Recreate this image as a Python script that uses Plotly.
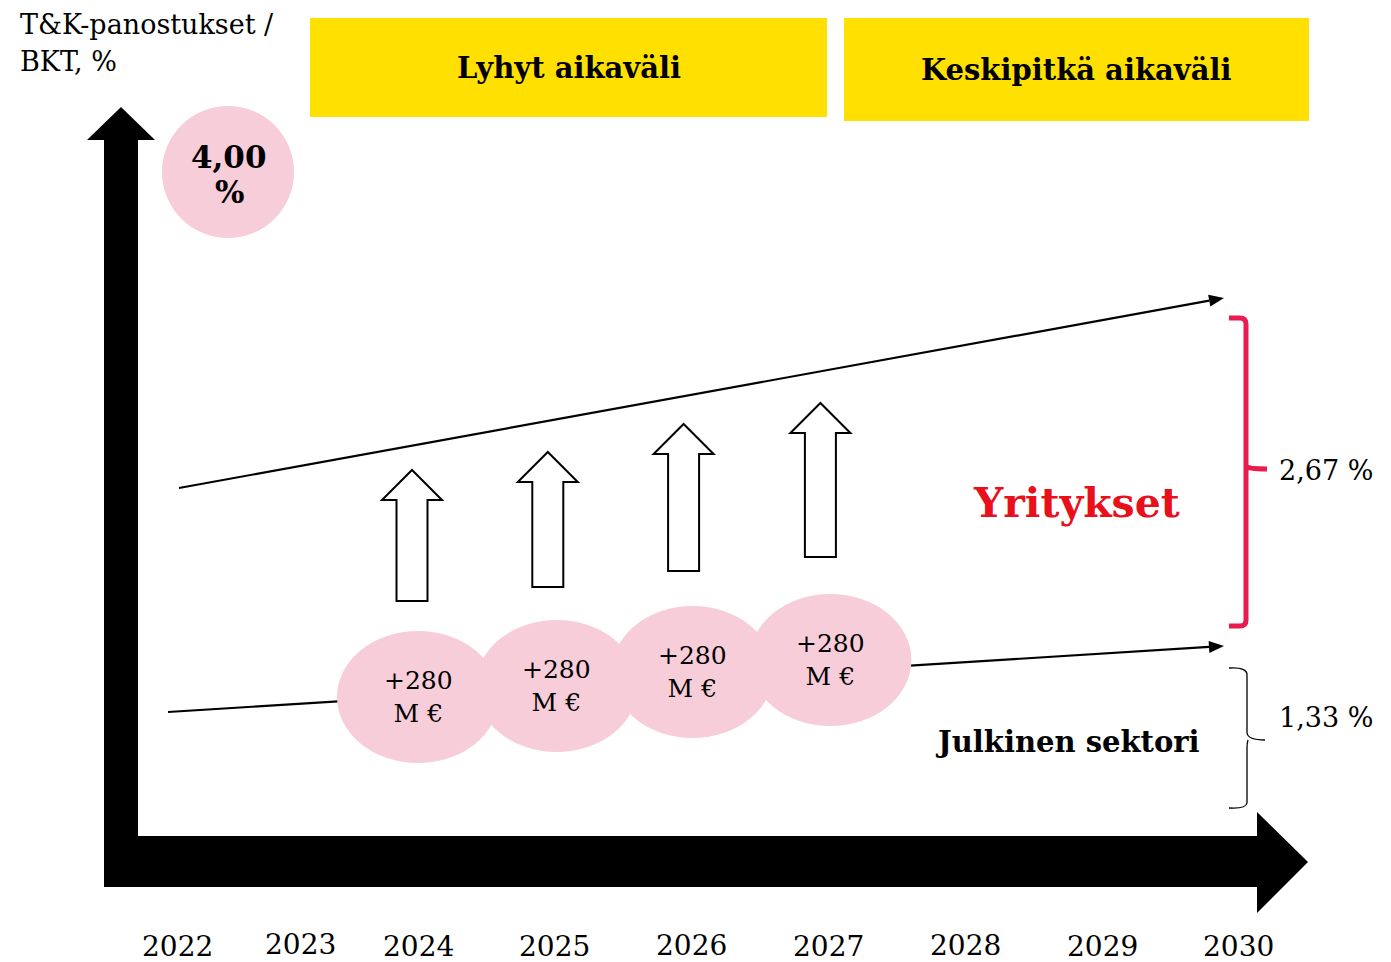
import plotly.graph_objects as go

# ---------------- data ----------------
years = [2022, 2023, 2024, 2025, 2026, 2027, 2028, 2029, 2030]
year_labels = [str(y) for y in years]
bubble_years = [2024, 2025, 2026, 2027]
bubble_amounts = [280, 280, 280, 280]          # M €
segments = ["Yritykset", "Julkinen sektori"]
segment_shares = [2.67, 1.33]                  # % of GDP
target_total = 4.00                            # % of GDP
periods = ["Lyhyt aikaväli", "Keskipitkä aikaväli"]
y_title = ["T&K-panostukset /", "BKT, %"]

# ---------------- layout / style ----------------
W, H = 1391, 962
PAGE_MARGIN = 8            # default body margin of the html page
PX_PER_YEAR = 136.8
X0_YEAR, X0_PX = 2024, 418
FONT = "DejaVu Serif"
PINK = "#F8CDDA"
YELLOW = "#FFE000"
RED_TXT = "#E8101A"
RED_BRACE = "#E81C4F"


def X(px):
    return X0_YEAR + (px - X0_PX) / PX_PER_YEAR


def Y(py):
    return (H - py) / 100.0


def fmt_pct(v):
    return f"{v:.2f}".replace(".", ",") + " %"


def poly(points):
    return "M " + " L ".join(f"{X(a):.5f},{Y(b):.5f}" for a, b in points) + " Z"


def pth(cmds):
    out = []
    for c in cmds:
        op, pts = c[0], c[1:]
        out.append(op + " " + " ".join(f"{X(a):.5f},{Y(b):.5f}" for a, b in pts))
    return " ".join(out)


shapes = []
annotations = []
traces = []

# yellow period boxes
period_boxes = [(310, 18, 827, 117), (844, 18, 1309, 121)]
for (x0, y0, x1, y1), label in zip(period_boxes, periods):
    shapes.append(dict(type="rect", xref="x", yref="y", x0=X(x0), x1=X(x1), y0=Y(y1), y1=Y(y0),
                       fillcolor=YELLOW, line=dict(width=0), layer="below"))
    annotations.append(dict(x=X((x0 + x1) / 2), y=Y((y0 + y1) / 2), xref="x", yref="y",
                            text=f"<b>{label}</b>", showarrow=False,
                            font=dict(family=FONT, size=29, color="black")))

# big black axes arrows
shapes.append(dict(type="path", xref="x", yref="y",
                   path=poly([(104, 887), (104, 140), (87, 140), (121, 107), (155, 140), (138, 140), (138, 887)]),
                   fillcolor="black", line=dict(width=0)))
shapes.append(dict(type="path", xref="x", yref="y",
                   path=poly([(104, 836), (1257, 836), (1257, 812), (1308, 862), (1257, 913), (1257, 887), (104, 887)]),
                   fillcolor="black", line=dict(width=0)))

# trend lines with arrowheads
trend_lines = [((179, 488), (1224, 298)), ((168, 712), (1224, 646))]
for (sx, sy), (ex, ey) in trend_lines:
    dx, dy = ex - sx, ey - sy
    L = (dx * dx + dy * dy) ** 0.5
    ux, uy = dx / L, dy / L
    nx, ny = -uy, ux
    bx, by = ex - 15 * ux, ey - 15 * uy
    traces.append(go.Scatter(x=[X(sx), X(bx)], y=[Y(sy), Y(by)], mode="lines",
                             line=dict(color="black", width=2.2), hoverinfo="skip", showlegend=False))
    shapes.append(dict(type="path", xref="x", yref="y",
                       path=poly([(ex, ey), (bx + 6 * nx, by + 6 * ny), (bx - 6 * nx, by - 6 * ny)]),
                       fillcolor="black", line=dict(width=0)))

# pink bubbles with amounts
bubble_cy = [697, 686, 672, 660]
bubble_dx = [0, 2, 1, 2]
RX, RY = 81, 66
for yr, amt, cy, ddx in zip(bubble_years, bubble_amounts, bubble_cy, bubble_dx):
    cx = X0_PX + (yr - X0_YEAR) * PX_PER_YEAR + ddx
    shapes.append(dict(type="circle", xref="x", yref="y", x0=X(cx - RX), x1=X(cx + RX),
                       y0=Y(cy + RY), y1=Y(cy - RY), fillcolor=PINK, line=dict(width=0)))
    annotations.append(dict(x=X(cx), y=Y(cy), xref="x", yref="y", text=f"+{amt}<br>M €",
                            showarrow=False, font=dict(family=FONT, size=25, color="black")))

# hollow up arrows
arrow_dx = [-6, -7, -8, -8]
arrow_bottom = [601, 587, 571, 557]
arrow_top = [470, 452, 424, 403]
for yr, ddx, yb, yt in zip(bubble_years, arrow_dx, arrow_bottom, arrow_top):
    cx = X0_PX + (yr - X0_YEAR) * PX_PER_YEAR + ddx
    hb = yt + 30
    shapes.append(dict(type="path", xref="x", yref="y",
                       path=poly([(cx - 15.5, yb), (cx - 15.5, hb), (cx - 30, hb), (cx, yt),
                                  (cx + 30, hb), (cx + 15.5, hb), (cx + 15.5, yb)]),
                       fillcolor="white", line=dict(color="black", width=2)))

# 4,00 % target circle
shapes.append(dict(type="circle", xref="x", yref="y", x0=X(162), x1=X(294), y0=Y(238), y1=Y(106),
                   fillcolor=PINK, line=dict(width=0)))
for part, py in zip(fmt_pct(target_total).split(" "), [157, 192]):
    annotations.append(dict(x=X(229), y=Y(py), xref="x", yref="y", text=f"<b>{part}</b>",
                            showarrow=False, font=dict(family=FONT, size=31, color="black")))

# y title
for t, py in zip(y_title, [24, 61]):
    annotations.append(dict(x=X(18), y=Y(py), xref="x", yref="y", text=t, xanchor="left",
                            showarrow=False, font=dict(family=FONT, size=27, color="black")))

# segment labels
annotations.append(dict(x=X(1076), y=Y(503), xref="x", yref="y", text=f"<b>{segments[0]}</b>",
                        showarrow=False, font=dict(family=FONT, size=41, color=RED_TXT)))
annotations.append(dict(x=X(1067), y=Y(742), xref="x", yref="y", text=f"<b>{segments[1]}</b>",
                        showarrow=False, font=dict(family=FONT, size=29, color="black")))

# braces
shapes.append(dict(type="path", xref="x", yref="y",
                   path=pth([("M", (1229, 318)), ("L", (1240, 318)), ("Q", (1246, 318), (1246, 324)),
                             ("L", (1246, 620)), ("Q", (1246, 626), (1240, 626)), ("L", (1229, 626)),
                             ("M", (1246, 466)), ("Q", (1248, 469), (1267, 469))]),
                   line=dict(color=RED_BRACE, width=5)))
shapes.append(dict(type="path", xref="x", yref="y",
                   path=pth([("M", (1229, 668)), ("Q", (1246, 667), (1247, 674)), ("L", (1247, 733)),
                             ("Q", (1248, 740), (1265, 740)), ("M", (1248, 740)), ("Q", (1247, 743), (1247, 748)),
                             ("L", (1247, 803)), ("Q", (1246, 809), (1229, 808))]),
                   line=dict(color="black", width=1.3)))

annotations.append(dict(x=X(1277), y=Y(470), xref="x", yref="y", text=fmt_pct(segment_shares[0]),
                        xanchor="left", showarrow=False, font=dict(family=FONT, size=27, color="black")))
annotations.append(dict(x=X(1277), y=Y(717), xref="x", yref="y", text=fmt_pct(segment_shares[1]),
                        xanchor="left", showarrow=False, font=dict(family=FONT, size=27, color="black")))

# year labels
label_xshift = [33, 19, 0, 0, 0, 0, 0, 0, 0]
label_py = [946, 944, 946, 946, 945, 946, 945, 946, 946]
for yr, lab, xs, py in zip(years, year_labels, label_xshift, label_py):
    annotations.append(dict(x=yr, y=Y(py), xref="x", yref="y", text=lab, xshift=xs,
                            showarrow=False, font=dict(family=FONT, size=28, color="black")))

fig = go.Figure(traces)
fig.update_layout(
    width=W - PAGE_MARGIN, height=H - PAGE_MARGIN, autosize=False,
    margin=dict(l=0, r=0, t=0, b=0),
    paper_bgcolor="white", plot_bgcolor="white",
    xaxis=dict(range=[X(PAGE_MARGIN), X(W)], visible=False, fixedrange=True),
    yaxis=dict(range=[Y(H), Y(PAGE_MARGIN)], visible=False, fixedrange=True),
    shapes=shapes, annotations=annotations, showlegend=False,
)
fig.write_html("out.html")
